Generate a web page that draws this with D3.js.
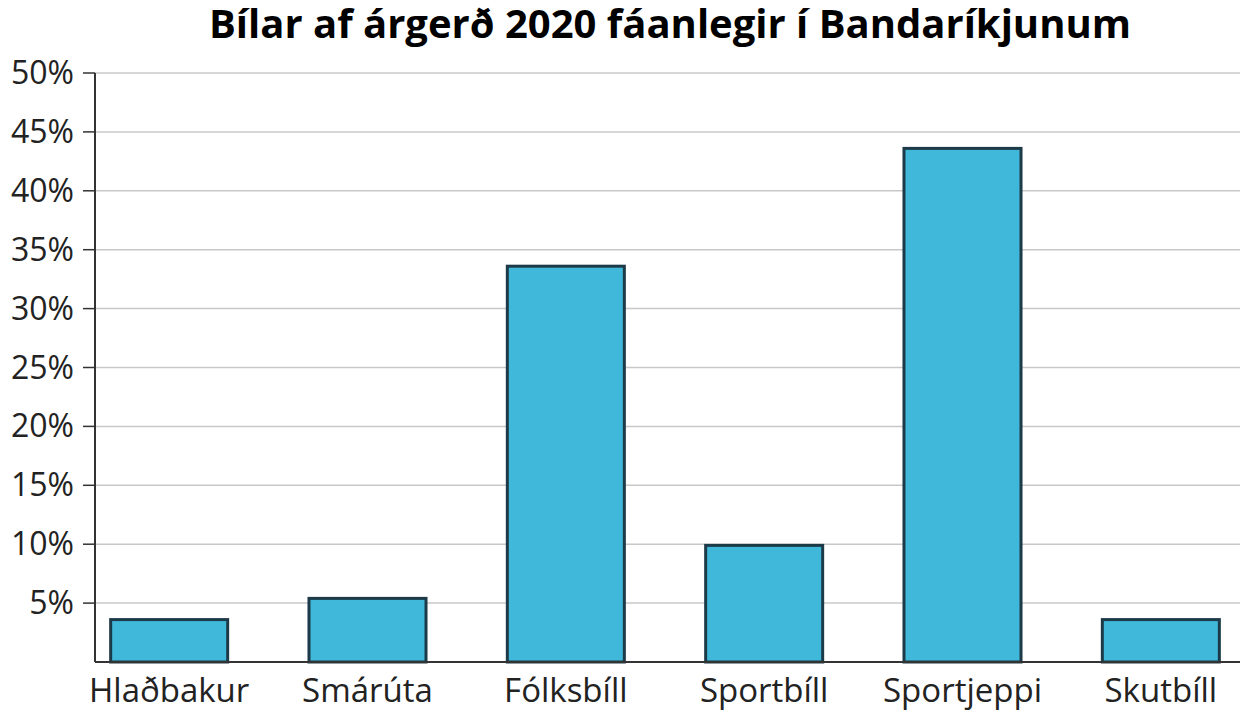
<!DOCTYPE html>
<html><head><meta charset="utf-8">
<script src="https://cdn.jsdelivr.net/npm/d3@7"></script>
<style>body{margin:0;background:#fff}svg{display:block}text{font-family:"Open Sans",sans-serif}</style>
</head><body><svg id="c" width="1240" height="718"></svg>
<script>
const categories=["Hlaðbakur","Smárúta","Fólksbíll","Sportbíll","Sportjeppi","Skutbíll"];
const values=[3.6,5.4,33.6,9.9,43.6,3.6];
const yTicks=[5,10,15,20,25,30,35,40,45,50];
const title="Bílar af árgerð 2020 fáanlegir í Bandaríkjunum";
const svg=d3.select("#c");
const y=d3.scaleLinear().domain([0,50]).range([662,73]);
const x=d3.scaleBand().domain(categories).range([70,1260]).paddingInner(0.41).paddingOuter(0.205);
svg.append("text").attr("x",670).attr("y",38).attr("text-anchor","middle").attr("font-size",40).attr("font-weight","bold").text(title);
svg.selectAll("line.g").data(yTicks).join("line").attr("x1",95).attr("x2",1240).attr("y1",d=>y(d)).attr("y2",d=>y(d)).attr("stroke","#c8c8c8").attr("stroke-width",1.5);
svg.selectAll("line.t").data(yTicks).join("line").attr("x1",83).attr("x2",95).attr("y1",d=>y(d)).attr("y2",d=>y(d)).attr("stroke","#333").attr("stroke-width",1.5);
svg.selectAll("text.yl").data(yTicks).join("text").attr("x",74).attr("y",d=>y(d)+11).attr("text-anchor","end").attr("font-size",32).attr("fill","#222").text(d=>d+"%");
svg.selectAll("rect").data(values).join("rect").attr("x",(d,i)=>x(categories[i])).attr("width",x.bandwidth()).attr("y",d=>y(d)).attr("height",d=>y(0)-y(d)).attr("fill","#3fb8d9").attr("stroke","#1d3a48").attr("stroke-width",3);
svg.append("line").attr("x1",95).attr("x2",95).attr("y1",73).attr("y2",662).attr("stroke","#333").attr("stroke-width",2);
svg.append("line").attr("x1",95).attr("x2",1240).attr("y1",662).attr("y2",662).attr("stroke","#333").attr("stroke-width",2);
svg.selectAll("text.xl").data(categories).join("text").attr("x",d=>x(d)+x.bandwidth()/2).attr("y",702).attr("text-anchor","middle").attr("font-size",33).attr("fill","#222").text(d=>d);
</script></body></html>
